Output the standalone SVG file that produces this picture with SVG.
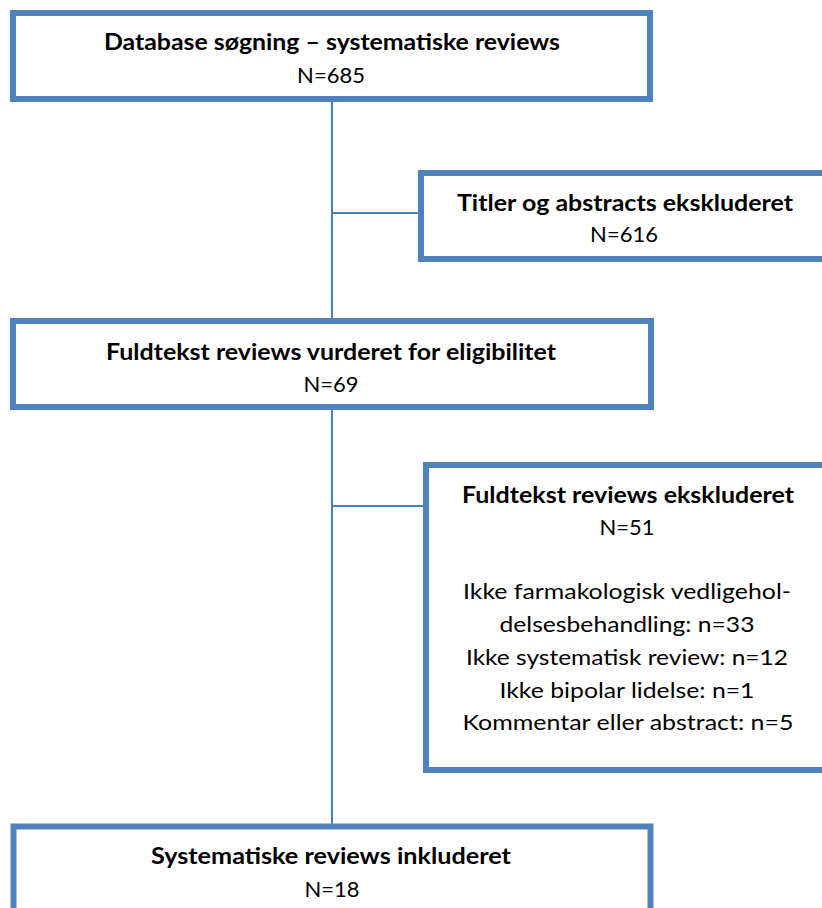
<svg xmlns="http://www.w3.org/2000/svg" width="822" height="908" viewBox="0 0 822 908">
<style>
.box{fill:#ffffff;stroke:#4f81bd;stroke-width:6}
.conn{stroke:#4a7ebb;stroke-width:2;fill:none}
text{font-family:Lato,"Open Sans","Liberation Sans",sans-serif;font-size:22px;fill:#000;text-anchor:middle}
.b{font-weight:bold}
</style>
<rect width="822" height="908" fill="#ffffff"/>
<g id="connectors">
<line class="conn" x1="332" y1="101" x2="332" y2="825"/>
<line class="conn" x1="332" y1="213" x2="419" y2="213"/>
<line class="conn" x1="332" y1="506" x2="424" y2="506"/>
</g>
<g id="n1">
<rect class="box" x="13" y="13" width="637" height="86"/>
<text class="b" x="332" y="50" textLength="456" lengthAdjust="spacingAndGlyphs">Database søgning – systematiske reviews</text>
<text x="331" y="83">N=685</text>
</g>
<g id="n2">
<rect class="box" x="421" y="173" width="420" height="86"/>
<text class="b" x="625" y="211" textLength="336" lengthAdjust="spacingAndGlyphs">Titler og abstracts ekskluderet</text>
<text x="624" y="242">N=616</text>
</g>
<g id="n3">
<rect class="box" x="13" y="321" width="638" height="86"/>
<text class="b" x="331" y="360" textLength="450" lengthAdjust="spacingAndGlyphs">Fuldtekst reviews vurderet for eligibilitet</text>
<text x="331" y="392">N=69</text>
</g>
<g id="n4">
<rect class="box" x="426" y="465" width="420" height="305"/>
<text class="b" x="628" y="503" textLength="332" lengthAdjust="spacingAndGlyphs">Fuldtekst reviews ekskluderet</text>
<text x="627" y="535">N=51</text>
<text x="627" y="599" textLength="328" lengthAdjust="spacingAndGlyphs">Ikke farmakologisk vedligehol-</text>
<text x="627" y="632" textLength="255" lengthAdjust="spacingAndGlyphs">delsesbehandling: n=33</text>
<text x="627" y="665" textLength="322" lengthAdjust="spacingAndGlyphs">Ikke systematisk review: n=12</text>
<text x="627" y="698" textLength="255" lengthAdjust="spacingAndGlyphs">Ikke bipolar lidelse: n=1</text>
<text x="628" y="730" textLength="331" lengthAdjust="spacingAndGlyphs">Kommentar eller abstract: n=5</text>
</g>
<g id="n5">
<rect class="box" x="13.5" y="826.5" width="637" height="100"/>
<text class="b" x="331" y="864" textLength="360" lengthAdjust="spacingAndGlyphs">Systematiske reviews inkluderet</text>
<text x="332" y="897">N=18</text>
</g>
</svg>
